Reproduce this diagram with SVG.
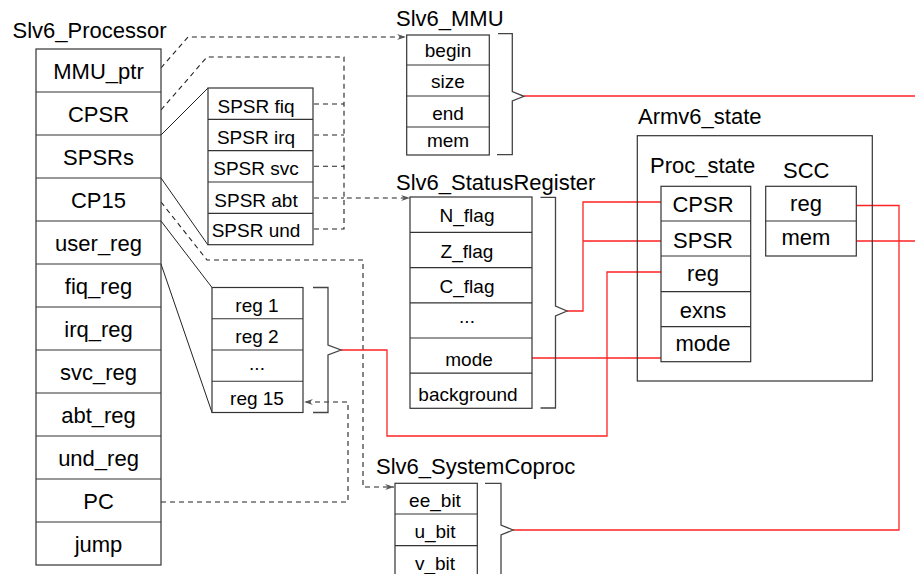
<svg xmlns="http://www.w3.org/2000/svg" width="915" height="574" viewBox="0 0 915 574">
<defs>
<style>
.bx{fill:#fff;stroke:#333;stroke-width:1.2}
.hl{stroke:#333;stroke-width:1.2;fill:none}
.br{fill:none;stroke:#444;stroke-width:1.3}
.t{font-family:"Liberation Sans",Arial,Helvetica,sans-serif;fill:#000}
.f22{font-size:22px}
.f19{font-size:19px}
.c{text-anchor:middle}
.sl{fill:none;stroke:#222;stroke-width:1}
.dl{fill:none;stroke:#222;stroke-width:1.1;stroke-dasharray:5,4}
.rl{fill:none;stroke:#f22;stroke-width:1.3}
.ab{fill:none;stroke:#333;stroke-width:1.2}
</style>
<marker id="arr" markerUnits="userSpaceOnUse" markerWidth="10" markerHeight="8" refX="9" refY="4" orient="auto"><path d="M0,1 L9,4 L0,7 L3,4 z" fill="#555"/></marker>
</defs>
<rect x="0" y="0" width="915" height="574" fill="#fff"/>

<g id="connectors">
  <path class="sl" d="M161,135 L208,88"/>
  <path class="sl" d="M161,178 L208,245"/>
  <path class="sl" d="M161,221 L212,287.5"/>
  <path class="sl" d="M161,264 L212,412.5"/>
  <path class="dl" d="M161,68 L188,37 L406,37" marker-end="url(#arr)"/>
  <path class="dl" d="M161,110 L207,57 L344,57 L344,198 L410,198" marker-end="url(#arr)"/>
  <path class="dl" d="M314,104 H344 M314,135 H344 M314,166.3 H344 M314,198 H344 M314,229 H344 V198"/>
  <path class="dl" d="M161,202 L207,260 L363,260 L363,487 L394,487" marker-end="url(#arr)"/>
  <path class="dl" d="M161,502 L348,502 L348,402 L304,402" marker-end="url(#arr)"/>
  <path class="rl" d="M524,96 H915"/>
  <path class="rl" d="M341,350 H387 V436 H607 V272 H661"/>
  <path class="rl" d="M567,311 H583 V202 H661 M583,241 H661"/>
  <path class="rl" d="M532,358 H661"/>
  <path class="rl" d="M856,205.5 H899 V530 H513"/>
  <path class="rl" d="M856,241 H915"/>
</g>

<g id="slv6_processor">
  <text class="t f22" x="12.5" y="38">Slv6_Processor</text>
  <rect class="bx" x="36" y="49" width="125" height="516"/>
  <path class="hl" d="M36,92 H161 M36,135 H161 M36,178 H161 M36,221 H161 M36,264 H161 M36,307 H161 M36,350 H161 M36,393 H161 M36,436 H161 M36,479 H161 M36,522 H161"/>
  <g class="t f22 c">
    <text x="98.5" y="79">MMU_ptr</text>
    <text x="98.5" y="122">CPSR</text>
    <text x="98.5" y="165">SPSRs</text>
    <text x="98.5" y="208">CP15</text>
    <text x="98.5" y="251">user_reg</text>
    <text x="98.5" y="294">fiq_reg</text>
    <text x="98.5" y="337">irq_reg</text>
    <text x="98.5" y="380">svc_reg</text>
    <text x="98.5" y="423">abt_reg</text>
    <text x="98.5" y="466">und_reg</text>
    <text x="98.5" y="509">PC</text>
    <text x="98.5" y="552">jump</text>
  </g>
</g>

<g id="spsrs">
  <rect class="bx" x="208" y="88" width="105" height="156.7"/>
  <path class="hl" d="M208,119.3 H313 M208,150.7 H313 M208,182 H313 M208,213.3 H313"/>
  <g class="t f19 c">
    <text x="256" y="113">SPSR fiq</text>
    <text x="256" y="144">SPSR irq</text>
    <text x="256" y="175">SPSR svc</text>
    <text x="256" y="206.5">SPSR abt</text>
    <text x="256" y="237">SPSR und</text>
  </g>
</g>

<g id="regs">
  <rect class="bx" x="212" y="287.5" width="91" height="125"/>
  <path class="hl" d="M212,318.75 H303 M212,350 H303 M212,381.25 H303"/>
  <path class="br" d="M313,287.5 H328 V345 L341,350 L328,355 V412.5 H313"/>
  <g class="t f19 c">
    <text x="257" y="311.5">reg 1</text>
    <text x="257" y="342.5">reg 2</text>
    <text x="257" y="369.5">...</text>
    <text x="257" y="405">reg 15</text>
  </g>
</g>

<g id="slv6_mmu">
  <text class="t f22" x="396" y="25.5">Slv6_MMU</text>
  <rect class="bx" x="406.7" y="35" width="82.6" height="120"/>
  <path class="hl" d="M406.7,65 H489.3 M406.7,96 H489.3 M406.7,127 H489.3"/>
  <path class="br" d="M498,33.7 H512.3 V91.5 L524,96.3 L512.3,101 V154.7 H497"/>
  <g class="t f19 c">
    <text x="448" y="57.3">begin</text>
    <text x="448" y="87.5">size</text>
    <text x="448" y="119.5">end</text>
    <text x="448" y="147">mem</text>
  </g>
</g>

<g id="slv6_statusregister">
  <text class="t f22" x="396" y="190">Slv6_StatusRegister</text>
  <rect class="bx" x="410" y="197" width="122" height="211.3"/>
  <path class="hl" d="M410,232.3 H532 M410,267.6 H532 M410,302.8 H532 M410,338 H532 M410,373.2 H532"/>
  <path class="br" d="M540.5,197.3 H555.5 V306 L567,311 L555.5,316 V408 H540.5"/>
  <g class="t f19 c">
    <text x="467" y="222">N_flag</text>
    <text x="467" y="258">Z_flag</text>
    <text x="467" y="293.3">C_flag</text>
    <text x="467" y="322.5">...</text>
    <text x="469" y="366">mode</text>
    <text x="468" y="400.7">background</text>
  </g>
</g>

<g id="armv6_state">
  <text class="t f22" x="638" y="124">Armv6_state</text>
  <rect class="ab" x="637.3" y="135.7" width="235" height="245.3" fill="none"/>
</g>

<g id="proc_state">
  <text class="t f22" x="650" y="173">Proc_state</text>
  <rect class="bx" x="661" y="186.3" width="89.7" height="175.4"/>
  <path class="hl" d="M661,221 H750.7 M661,256 H750.7 M661,291.7 H750.7 M661,326.7 H750.7"/>
  <g class="t f22 c">
    <text x="703" y="212.3">CPSR</text>
    <text x="703" y="248.3">SPSR</text>
    <text x="703" y="280.5">reg</text>
    <text x="703" y="318.3">exns</text>
    <text x="703" y="350.5">mode</text>
  </g>
</g>

<g id="scc">
  <text class="t f22" x="783" y="178">SCC</text>
  <rect class="bx" x="765.7" y="186.3" width="90.6" height="69.7"/>
  <path class="hl" d="M765.7,221 H856.3"/>
  <g class="t f22 c">
    <text x="806" y="210.5">reg</text>
    <text x="806" y="245">mem</text>
  </g>
</g>

<g id="slv6_systemcoproc">
  <text class="t f22" x="376" y="474">Slv6_SystemCoproc</text>
  <rect class="bx" x="395" y="483.3" width="82.3" height="94"/>
  <path class="hl" d="M395,514 H477.3 M395,545.7 H477.3"/>
  <path class="br" d="M485,483.3 H501 V525 L513,530 L501,535 V580"/>
  <g class="t f19 c">
    <text x="435" y="506.7">ee_bit</text>
    <text x="435" y="538.3">u_bit</text>
    <text x="435" y="569.5">v_bit</text>
  </g>
</g>
</svg>
